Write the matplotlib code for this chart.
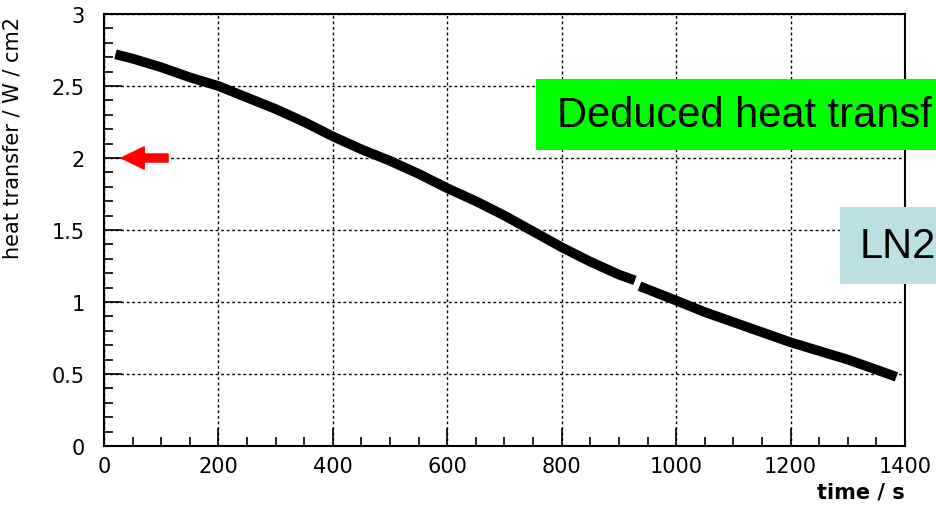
import numpy as np
import matplotlib
matplotlib.use('Agg')
import matplotlib.pyplot as plt
from matplotlib.patches import Rectangle
from matplotlib.ticker import MultipleLocator

# -----------------------------
# data
# -----------------------------
time_s = [20, 50, 100, 150, 200, 250, 300, 350, 400, 450, 500, 550, 600,
          650, 700, 750, 800, 850, 900, 928, 932,
          936, 1000, 1050, 1100, 1150, 1200, 1250, 1300, 1350, 1385]
heat_w_cm2 = [2.72, 2.69, 2.63, 2.56, 2.50, 2.42, 2.34, 2.25, 2.15, 2.06, 1.98,
              1.89, 1.79, 1.70, 1.60, 1.49, 1.38, 1.28, 1.19, 1.15, np.nan,
              1.11, 1.01, 0.93, 0.86, 0.79, 0.72, 0.66, 0.60, 0.53, 0.48]
x_ticks = [0, 200, 400, 600, 800, 1000, 1200, 1400]
y_ticks = [0, 0.5, 1, 1.5, 2, 2.5, 3]
y_tick_labels = ['0', '0.5', '1', '1.5', '2', '2.5', '3']
arrow_level = 2.0

W, H = 936, 510
fig = plt.figure(figsize=(W / 100, H / 100), dpi=100)
ax = fig.add_axes([104 / W, 1 - 447 / H, (905 - 104) / W, (447 - 15) / H])

ax.plot(time_s, heat_w_cm2, color='black', lw=7, solid_capstyle='butt', zorder=3)

ax.set_xlim(0, 1400)
ax.set_ylim(0, 3)
ax.set_xticks(x_ticks)
ax.set_yticks(y_ticks)
ax.set_yticklabels(y_tick_labels)
ax.xaxis.set_minor_locator(MultipleLocator(50))
ax.yaxis.set_minor_locator(MultipleLocator(0.1))
ax.tick_params(which='major', direction='in', length=13, width=1.2,
               labelsize=15, top=False, right=False)
ax.tick_params(which='minor', direction='in', length=6.5, width=1.2,
               top=False, right=False)
ax.tick_params(axis='y', which='major', pad=14)
ax.tick_params(axis='x', which='major', pad=7)
ax.grid(True, which='major', color='black', linestyle=(0, (2, 2)), lw=1)
for s in ax.spines.values():
    s.set_linewidth(1.5)

ax.set_xlabel('time / s', loc='right', fontsize=15, fontweight='bold')
ax.set_ylabel('heat transfer / W / cm2', loc='top', fontsize=15)
ax.yaxis.set_label_coords(-0.102, 0.995)

# red arrow pointing at the axis
ax.annotate('', xy=(30, arrow_level), xytext=(112, arrow_level),
            arrowprops=dict(arrowstyle='simple,head_length=0.83,head_width=0.8,tail_width=0.29',
                            color='red', shrinkA=0, shrinkB=0, mutation_scale=20),
            zorder=5)

# overlay boxes from the slide (cut at the right edge, as in the reference)
fig.patches.append(Rectangle((536 / W, 1 - 151 / H), 1.0, 71 / H, transform=fig.transFigure,
                             facecolor='#00ff00', edgecolor='none', zorder=10))
fig.text(557 / W, 1 - 116 / H, 'Deduced heat transf', fontsize=30,
         family='Liberation Sans', va='center', ha='left', zorder=11)
fig.patches.append(Rectangle((840 / W, 1 - 285 / H), 1.0, 77 / H, transform=fig.transFigure,
                             facecolor='#bbe0e3', edgecolor='none', zorder=10))
fig.text(860 / W, 1 - 247 / H, 'LN2', fontsize=30,
         family='Liberation Sans', va='center', ha='left', zorder=11)

fig.savefig('out.png', dpi=100)
